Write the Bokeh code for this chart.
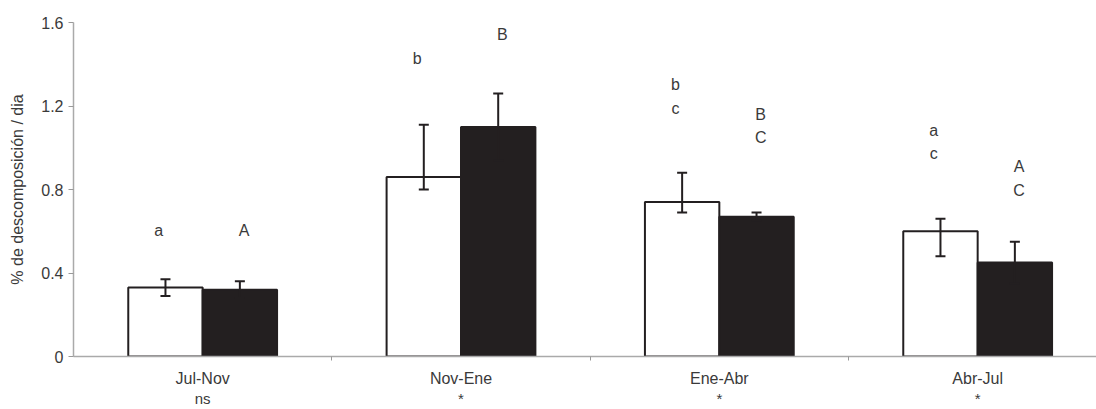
from bokeh.plotting import figure
from bokeh.models import Range1d, FixedTicker, ColumnDataSource, Whisker, TeeHead, LinearAxis
from bokeh.core.properties import value
from bokeh.embed import file_html
from bokeh.resources import INLINE

categories = ["Jul-Nov", "Nov-Ene", "Ene-Abr", "Abr-Jul"]
significance = ["ns", "*", "*", "*"]

white_vals = [0.33, 0.86, 0.74, 0.60]
white_err_up = [0.37, 1.11, 0.88, 0.66]
white_err_lo = [0.29, 0.80, 0.69, 0.48]

black_vals = [0.32, 1.10, 0.67, 0.45]
black_err_up = [0.36, 1.26, 0.69, 0.55]
black_err_lo = [0.28, 0.94, 0.65, 0.35]

# group letters (text, y) for white and black bars
white_letters = [["a"], ["b"], ["b", "c"], ["a", "c"]]
white_letter_y = [[0.605], [1.427], [1.303, 1.189], [1.082, 0.971]]
black_letters = [["A"], ["B"], ["B", "C"], ["A", "C"]]
black_letter_y = [[0.605], [1.544], [1.160, 1.049], [0.911, 0.797]]

y_ticks = [0, 0.4, 0.8, 1.2, 1.6]

INK = "#231f20"
TXT = "#3a3a3a"
FONT = "Liberation Sans"

n = len(categories)
centers = [i + 0.5 for i in range(n)]
dodge = 0.144
bw = 0.288

p = figure(width=1096, height=409, output_backend="svg", toolbar_location=None,
           x_range=Range1d(0, 3.96), y_range=Range1d(0, 1.6),
           min_border_left=73, min_border_right=0, min_border_top=22, min_border_bottom=51)
p.outline_line_color = None
p.xgrid.visible = False
p.ygrid.visible = False

wsrc = ColumnDataSource(dict(x=[c - dodge for c in centers], top=white_vals,
                             up=white_err_up, lo=white_err_lo))
bsrc = ColumnDataSource(dict(x=[c + dodge for c in centers], top=black_vals,
                             up=black_err_up, lo=black_err_lo))

p.vbar(x="x", top="top", width=bw, bottom=0, source=wsrc,
       fill_color="white", line_color=INK, line_width=2)
p.vbar(x="x", top="top", width=bw, bottom=0, source=bsrc,
       fill_color=INK, line_color=INK, line_width=2)

for src in (wsrc, bsrc):
    w = Whisker(base="x", upper="up", lower="lo", source=src, level="overlay",
                line_color=INK, line_width=2,
                upper_head=TeeHead(size=10, line_color=INK, line_width=2),
                lower_head=TeeHead(size=10, line_color=INK, line_width=2))
    p.add_layout(w)

lx, ly, lt = [], [], []
for i in range(n):
    for t, y in zip(white_letters[i], white_letter_y[i]):
        lx.append(i + 0.33); ly.append(y); lt.append(t)
    for t, y in zip(black_letters[i], black_letter_y[i]):
        lx.append(i + 0.66); ly.append(y); lt.append(t)
p.text(x=lx, y=ly, text=lt, text_align="center", text_baseline="middle",
       text_font=value(FONT), text_font_size="16px", text_color=TXT)

# x axis (category names)
p.xaxis.ticker = FixedTicker(ticks=centers, minor_ticks=[1, 2, 3])
p.xaxis.major_label_overrides = {c: cat for c, cat in zip(centers, categories)}
p.xaxis.major_tick_out = 0
p.xaxis.major_tick_in = 0
p.xaxis.minor_tick_out = 4
p.xaxis.minor_tick_in = 0
p.xaxis.minor_tick_line_color = "#999999"
p.xaxis.axis_line_color = "#aaaaaa"
p.xaxis.axis_line_width = 1.5
p.xaxis.major_label_standoff = 9
p.xaxis.major_label_text_font = FONT
p.xaxis.major_label_text_font_size = "16px"
p.xaxis.major_label_text_color = TXT

# second row of x labels (significance)
ax2 = LinearAxis(ticker=FixedTicker(ticks=centers),
                 major_label_overrides={c: s for c, s in zip(centers, significance)},
                 axis_line_color=None, major_tick_line_color=None, minor_tick_line_color=None,
                 major_tick_out=0, major_tick_in=0, minor_tick_out=0, minor_tick_in=0,
                 major_label_standoff=0, major_label_text_font=FONT,
                 major_label_text_font_size="15px", major_label_text_color=TXT)
p.add_layout(ax2, "below")

# y axis
p.yaxis.ticker = FixedTicker(ticks=y_ticks)
p.yaxis.major_label_overrides = {0: "0"}
p.yaxis.axis_label = "% de descomposición / dia"
p.yaxis.axis_label_text_font = FONT
p.yaxis.axis_label_text_font_size = "16px"
p.yaxis.axis_label_text_font_style = "normal"
p.yaxis.axis_label_text_color = TXT
p.yaxis.axis_label_standoff = 12
p.yaxis.major_label_text_font = FONT
p.yaxis.major_label_text_font_size = "16px"
p.yaxis.major_label_text_color = TXT
p.yaxis.major_tick_out = 5
p.yaxis.major_tick_in = 0
p.yaxis.minor_tick_line_color = None
p.yaxis.major_tick_line_color = "#999999"
p.yaxis.axis_line_color = "#aaaaaa"
p.yaxis.axis_line_width = 1.5
p.yaxis.major_label_standoff = 5

open("out.html", "w").write(file_html(p, INLINE))
